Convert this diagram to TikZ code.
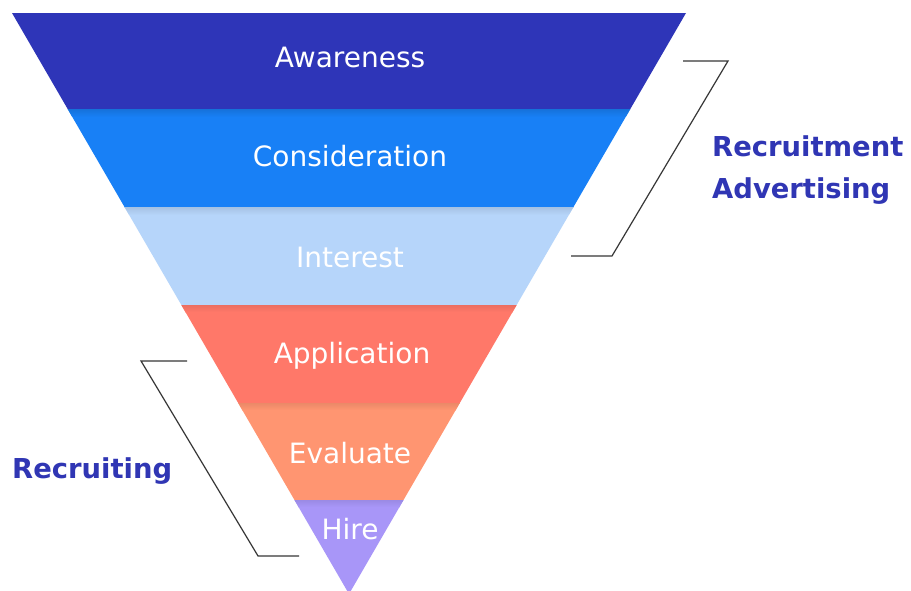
\documentclass[tikz,border=0pt]{standalone}
\usepackage{fontspec}
\setmainfont{DejaVu Sans}
\definecolor{awarecol}{RGB}{46,53,184}
\definecolor{considcol}{RGB}{24,128,246}
\definecolor{interestcol}{RGB}{182,213,250}
\definecolor{applycol}{RGB}{255,120,105}
\definecolor{evalcol}{RGB}{255,149,113}
\definecolor{hirecol}{RGB}{168,150,248}
\definecolor{labelblue}{RGB}{48,54,180}
\definecolor{bracketgray}{RGB}{55,55,55}
\begin{document}
\begin{tikzpicture}[x=1pt,y=-1pt,
  stage/.style={text=white, font=\fontsize{28}{32}\selectfont, anchor=base, inner sep=0pt},
  phase/.style={text=labelblue, font=\fontsize{27.4}{43}\selectfont\bfseries, anchor=base west, align=left, inner sep=0pt},
  bracket/.style={draw=bracketgray, line width=1.2pt, line join=miter}]
\useasboundingbox[fill=white] (0,0) rectangle (911,591);

% funnel outline
\coordinate (tl) at (12,13);
\coordinate (tr) at (686,13);
\coordinate (apex) at (349,594);

\begin{scope}
  \clip (tl) -- (tr) -- (apex) -- cycle;
  % bands
  \fill[awarecol]    (0,13)  rectangle (911,110);
  \fill[considcol]   (0,110) rectangle (911,208);
  \fill[interestcol] (0,208) rectangle (911,305);
  \fill[applycol]    (0,305) rectangle (911,403);
  \fill[evalcol]     (0,403) rectangle (911,500);
  \fill[hirecol]     (0,500) rectangle (911,600);
  % soft shadow under each band edge
  \shade[top color=considcol!90!black,   bottom color=considcol]   (0,110) rectangle (911,117);
  \shade[top color=interestcol!92!black, bottom color=interestcol] (0,208) rectangle (911,215);
  \shade[top color=applycol!92!black,    bottom color=applycol]    (0,305) rectangle (911,312);
  \shade[top color=evalcol!92!black,     bottom color=evalcol]     (0,403) rectangle (911,410);
  \shade[top color=hirecol!92!black,     bottom color=hirecol]     (0,500) rectangle (911,507);
\end{scope}

% stage labels
\node[stage] (awareness)     at (350,68)  {Awareness};
\node[stage] (consideration) at (350,167) {Consideration};
\node[stage] (interest)      at (350,267) {Interest};
\node[stage] (application)   at (352,363) {Application};
\node[stage] (evaluate)      at (350,463) {Evaluate};
\node[stage] (hire)          at (350,539) {Hire};

% phase labels (base anchor sits on the last line)
\node[phase] (advertising) at (712,199) {Recruitment\\Advertising};
\node[phase] (recruiting)  at (12,478)  {Recruiting};

% brackets
\coordinate (ra1) at (683,61);
\coordinate (ra2) at (728,61);
\coordinate (ra3) at (612,256);
\coordinate (ra4) at (571,256);
\draw[bracket] (ra1) -- (ra2) -- (ra3) -- (ra4);

\coordinate (rc1) at (187,361);
\coordinate (rc2) at (141,361);
\coordinate (rc3) at (258,556);
\coordinate (rc4) at (299,556);
\draw[bracket] (rc1) -- (rc2) -- (rc3) -- (rc4);
\end{tikzpicture}
\end{document}
